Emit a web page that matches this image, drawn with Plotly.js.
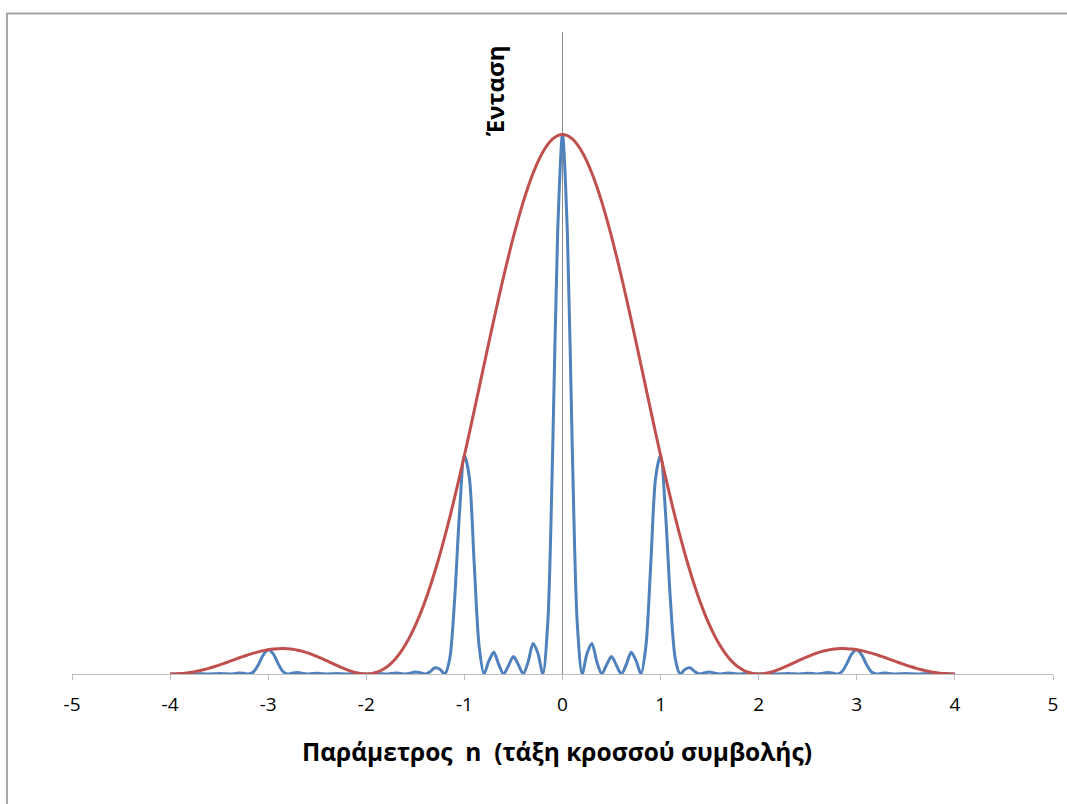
<!DOCTYPE html>
<html>
<head>
<meta charset="utf-8">
<script src="https://cdn.plot.ly/plotly-3.0.1.min.js"></script>
<style>
html,body{margin:0;padding:0;background:#fff;}
#chart{width:1067px;height:804px;}
</style>
</head>
<body>
<div id="chart"></div>
<script>
// Order parameter n
var nValues = [-4,-3.95,-3.9,-3.85,-3.8,-3.75,-3.7,-3.65,-3.6,-3.55,-3.5,-3.45,-3.4,-3.35,-3.3,-3.25,-3.2,-3.15,-3.1,-3.05,
-3,-2.95,-2.9,-2.85,-2.8,-2.75,-2.7,-2.65,-2.6,-2.55,-2.5,-2.45,-2.4,-2.35,-2.3,-2.25,-2.2,-2.15,-2.1,-2.05,
-2,-1.95,-1.9,-1.85,-1.8,-1.75,-1.7,-1.65,-1.6,-1.55,-1.5,-1.45,-1.4,-1.35,-1.3,-1.25,-1.2,-1.15,-1.1,-1.05,
-1,-0.95,-0.9,-0.85,-0.8,-0.75,-0.7,-0.65,-0.6,-0.55,-0.5,-0.45,-0.4,-0.35,-0.3,-0.25,-0.2,-0.15,-0.1,-0.05,
0,0.05,0.1,0.15,0.2,0.25,0.3,0.35,0.4,0.45,0.5,0.55,0.6,0.65,0.7,0.75,0.8,0.85,0.9,0.95,
1,1.05,1.1,1.15,1.2,1.25,1.3,1.35,1.4,1.45,1.5,1.55,1.6,1.65,1.7,1.75,1.8,1.85,1.9,1.95,
2,2.05,2.1,2.15,2.2,2.25,2.3,2.35,2.4,2.45,2.5,2.55,2.6,2.65,2.7,2.75,2.8,2.85,2.9,2.95,
3,3.05,3.1,3.15,3.2,3.25,3.3,3.35,3.4,3.45,3.5,3.55,3.6,3.65,3.7,3.75,3.8,3.85,3.9,3.95,4];

// Interference pattern intensity (blue)
var intensity = [0,0.0001,0.0003,0.0001,0,0.0002,0.0004,0.0002,0,0.0003,0.0007,0.0004,0,0.0007,0.0018,0.0013,0,0.0037,0.0172,0.0354,
0.0450,0.0378,0.0197,0.0046,0,0.0018,0.0027,0.0011,0,0.0007,0.0013,0.0006,0,0.0005,0.0010,0.0005,0,0.0005,0.0009,0.0005,
0,0.0005,0.0012,0.0006,0,0.0008,0.0018,0.0010,0,0.0015,0.0036,0.0023,0,0.0041,0.0116,0.0089,0,0.0281,0.1369,0.2986,
0.4053,0.3648,0.2045,0.0514,0,0.0246,0.0401,0.0176,0,0.0159,0.0324,0.0173,0,0.0228,0.0567,0.0380,0,0.0952,0.4155,0.8156,
1,0.8156,0.4155,0.0952,0,0.0380,0.0567,0.0228,0,0.0173,0.0324,0.0159,0,0.0176,0.0401,0.0246,0,0.0514,0.2045,0.3648,
0.4053,0.2986,0.1369,0.0281,0,0.0089,0.0116,0.0041,0,0.0023,0.0036,0.0015,0,0.0010,0.0018,0.0008,0,0.0006,0.0012,0.0005,
0,0.0005,0.0009,0.0005,0,0.0005,0.0010,0.0005,0,0.0006,0.0013,0.0007,0,0.0011,0.0027,0.0018,0,0.0046,0.0197,0.0378,
0.0450,0.0354,0.0172,0.0037,0,0.0013,0.0018,0.0007,0,0.0004,0.0007,0.0003,0,0.0002,0.0004,0.0002,0,0.0001,0.0003,0.0001,0];

// Diffraction envelope (red)
var envelope = [0,0.0002,0.0007,0.0015,0.0027,0.0042,0.0061,0.0083,0.0108,0.0136,0.0165,0.0197,0.0230,0.0263,0.0296,0.0328,0.0358,0.0386,0.0411,0.0433,
0.0450,0.0463,0.0470,0.0472,0.0468,0.0457,0.0441,0.0420,0.0392,0.0360,0.0324,0.0285,0.0243,0.0200,0.0158,0.0117,0.0080,0.0048,0.0023,0.0006,
0,0.0007,0.0028,0.0065,0.0119,0.0194,0.0289,0.0406,0.0547,0.0712,0.0901,0.1115,0.1353,0.1617,0.1904,0.2214,0.2546,0.2898,0.3268,0.3653,
0.4053,0.4463,0.4881,0.5304,0.5728,0.6150,0.6566,0.6974,0.7368,0.7747,0.8106,0.8442,0.8751,0.9032,0.9281,0.9497,0.9676,0.9817,0.9918,0.9979,
1,0.9979,0.9918,0.9817,0.9676,0.9497,0.9281,0.9032,0.8751,0.8442,0.8106,0.7747,0.7368,0.6974,0.6566,0.6150,0.5728,0.5304,0.4881,0.4463,
0.4053,0.3653,0.3268,0.2898,0.2546,0.2214,0.1904,0.1617,0.1353,0.1115,0.0901,0.0712,0.0547,0.0406,0.0289,0.0194,0.0119,0.0065,0.0028,0.0007,
0,0.0006,0.0023,0.0048,0.0080,0.0117,0.0158,0.0200,0.0243,0.0285,0.0324,0.0360,0.0392,0.0420,0.0441,0.0457,0.0468,0.0472,0.0470,0.0463,
0.0450,0.0433,0.0411,0.0386,0.0358,0.0328,0.0296,0.0263,0.0230,0.0197,0.0165,0.0136,0.0108,0.0083,0.0061,0.0042,0.0027,0.0015,0.0007,0.0002,0];

var tickValues = [-5,-4,-3,-2,-1,0,1,2,3,4,5];
var tickLabels = ["-5","-4","-3","-2","-1","0","1","2","3","4","5"];
var xTitle = "Παράμετρος  n  (τάξη κροσσού συμβολής)";
var yTitle = "Ένταση";

var traces = [
  {x: nValues, y: intensity, type: "scatter", mode: "lines",
   line: {color: "#4F81BD", width: 3, shape: "spline", smoothing: 0.8},
   hoverinfo: "skip", showlegend: false},
  {x: nValues, y: envelope, type: "scatter", mode: "lines",
   line: {color: "#C0504D", width: 3, shape: "spline", smoothing: 0.8},
   hoverinfo: "skip", showlegend: false}
];

var layout = {
  width: 1067, height: 804,
  margin: {l: 72, r: 14, t: 32, b: 130, pad: 0},
  paper_bgcolor: "#ffffff", plot_bgcolor: "#ffffff",
  showlegend: false,
  font: {family: "Open Sans, Noto Sans, sans-serif", color: "#000"},
  xaxis: {
    range: [-5, 5], tickmode: "array", tickvals: tickValues, ticktext: tickLabels,
    ticks: "outside", ticklen: 5, tickwidth: 1, tickcolor: "#bfbfbf",
    ticklabelstandoff: 8,
    showline: true, linecolor: "#bfbfbf", linewidth: 1,
    zeroline: true, zerolinecolor: "#8c8c8c", zerolinewidth: 1,
    showgrid: false, layer: "above traces",
    tickfont: {family: "Open Sans, sans-serif", size: 19, color: "#000"},
    fixedrange: true
  },
  yaxis: {
    range: [0, 1.19], showticklabels: false, showgrid: false, zeroline: false,
    showline: false, ticks: "", fixedrange: true
  },
  annotations: [
    {text: "<b>" + xTitle + "</b>", xref: "paper", yref: "paper", x: 0.4939, y: -0.120,
     xanchor: "center", yanchor: "middle", showarrow: false,
     font: {family: "Open Sans, sans-serif", size: 24.5, color: "#000"}},
    {text: "<b>" + yTitle + "</b>", xref: "paper", yref: "paper", x: 0.430, y: 0.908,
     xanchor: "center", yanchor: "middle", textangle: -90, showarrow: false,
     font: {family: "Open Sans, sans-serif", size: 24, color: "#000"}}
  ],
  shapes: [
    {type: "rect", xref: "paper", yref: "paper", x0: -0.0663, x1: 1.2, y0: -0.6, y1: 1.0288,
     line: {color: "#a6a6a6", width: 2}, fillcolor: "rgba(0,0,0,0)", layer: "below"}
  ]
};

Plotly.newPlot("chart", traces, layout, {displayModeBar: false, staticPlot: true});
</script>
</body>
</html>
